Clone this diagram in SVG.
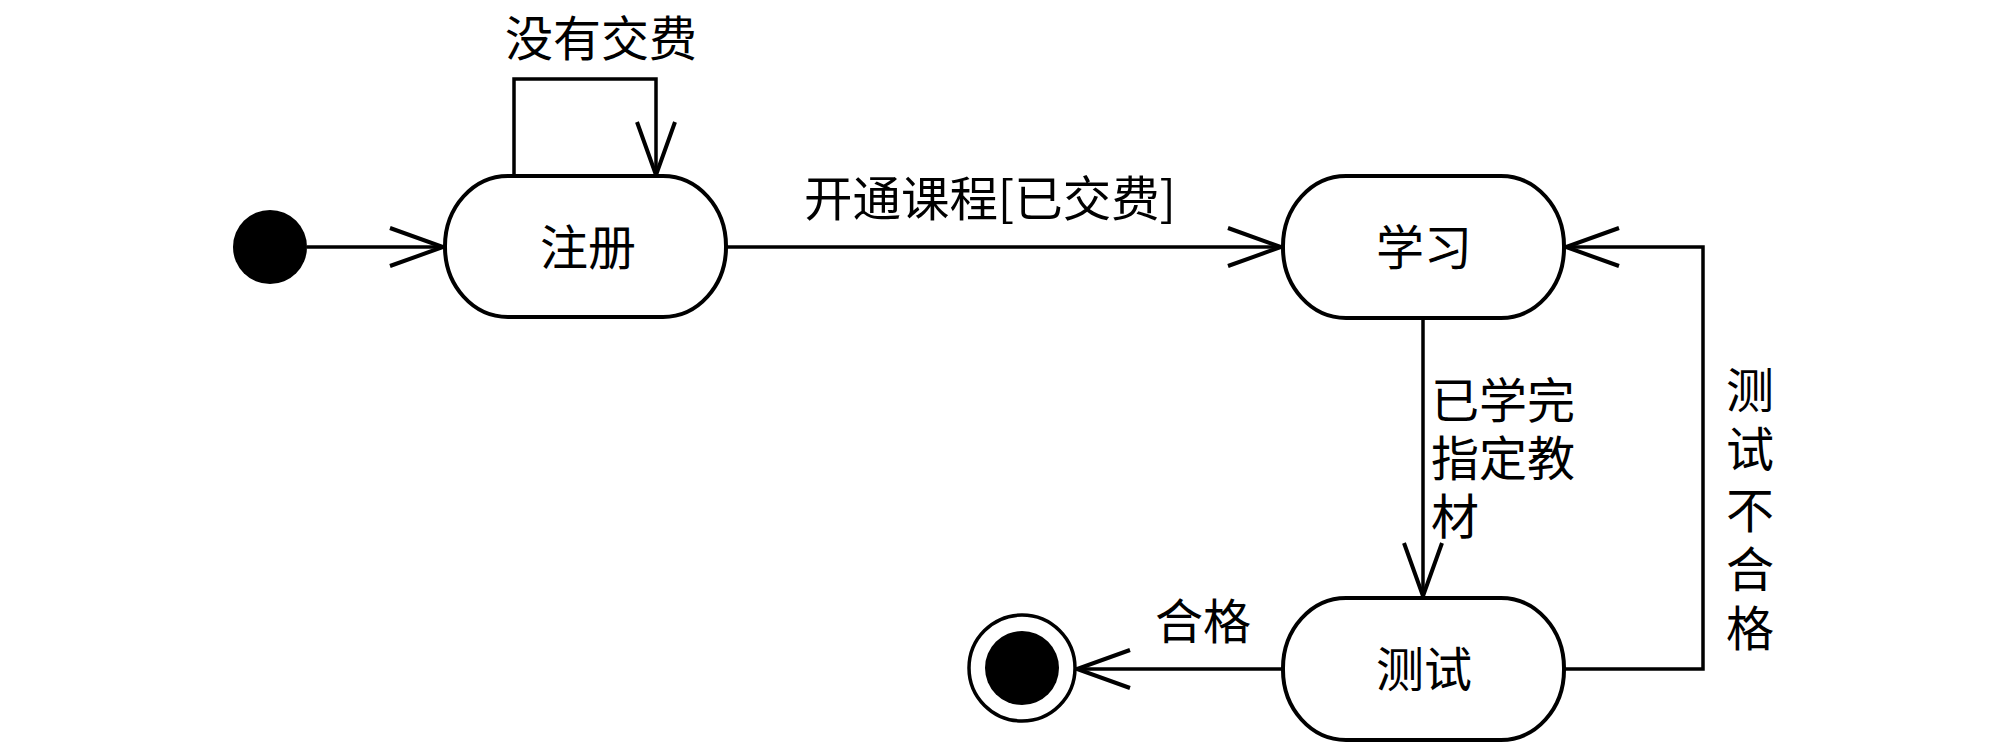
<svg xmlns="http://www.w3.org/2000/svg" width="2016" height="752" viewBox="0 0 2016 752">
<style>
  .node { fill: #ffffff; stroke: #000000; stroke-width: 4; }
  .edge { fill: none; stroke: #000000; stroke-width: 3.5; }
  .lbl { font-family: "Noto Sans CJK SC", "Noto Sans", sans-serif; font-size: 48px; fill: #000000; }
  .mid { text-anchor: middle; }
</style>
<defs>
  <marker id="open" markerUnits="userSpaceOnUse" markerWidth="60" markerHeight="44" refX="0" refY="0" viewBox="-56 -22 60 44" orient="auto" overflow="visible">
    <path d="M-53,-19 L0,0 L-53,19" fill="none" stroke="#000000" stroke-width="4"/>
  </marker>
</defs>
<rect width="2016" height="752" fill="#ffffff"/>
<g id="connectors">
  <path class="edge" d="M307,247 H443" marker-end="url(#open)"/>
  <path class="edge" d="M514,176 V79 H656 V175" marker-end="url(#open)"/>
  <path class="edge" d="M726,247 H1281" marker-end="url(#open)"/>
  <path class="edge" d="M1423,318 V596" marker-end="url(#open)"/>
  <path class="edge" d="M1564,669 H1703 V247 H1566" marker-end="url(#open)"/>
  <path class="edge" d="M1283,669 H1077" marker-end="url(#open)"/>
  <text class="lbl mid" x="601" y="56">没有交费</text>
  <text class="lbl" x="804" y="216" textLength="372" lengthAdjust="spacingAndGlyphs">开通课程[已交费]</text>
  <text class="lbl" x="1431" y="418">已学完<tspan x="1431" dy="58">指定教</tspan><tspan x="1431" dy="58">材</tspan></text>
  <text class="lbl mid" x="1750" y="408">测<tspan x="1750" dy="59">试</tspan><tspan x="1750" dy="61">不</tspan><tspan x="1750" dy="59">合</tspan><tspan x="1750" dy="59">格</tspan></text>
  <text class="lbl mid" x="1203" y="639">合格</text>
</g>
<g id="initial">
  <circle cx="270" cy="247" r="37" fill="#000000"/>
</g>
<g id="zhuce">
  <rect class="node" x="445" y="176" width="281" height="141" rx="63" ry="70"/>
  <text class="lbl mid" x="588" y="265">注册</text>
</g>
<g id="xuexi">
  <rect class="node" x="1283" y="176" width="281" height="142" rx="63" ry="70"/>
  <text class="lbl mid" x="1424" y="265">学习</text>
</g>
<g id="ceshi">
  <rect class="node" x="1283" y="598" width="281" height="142" rx="63" ry="70"/>
  <text class="lbl mid" x="1424" y="687">测试</text>
</g>
<g id="final">
  <circle cx="1022" cy="668" r="53" fill="#ffffff" stroke="#000000" stroke-width="3.5"/>
  <circle cx="1022" cy="668" r="37" fill="#000000"/>
</g>
</svg>
